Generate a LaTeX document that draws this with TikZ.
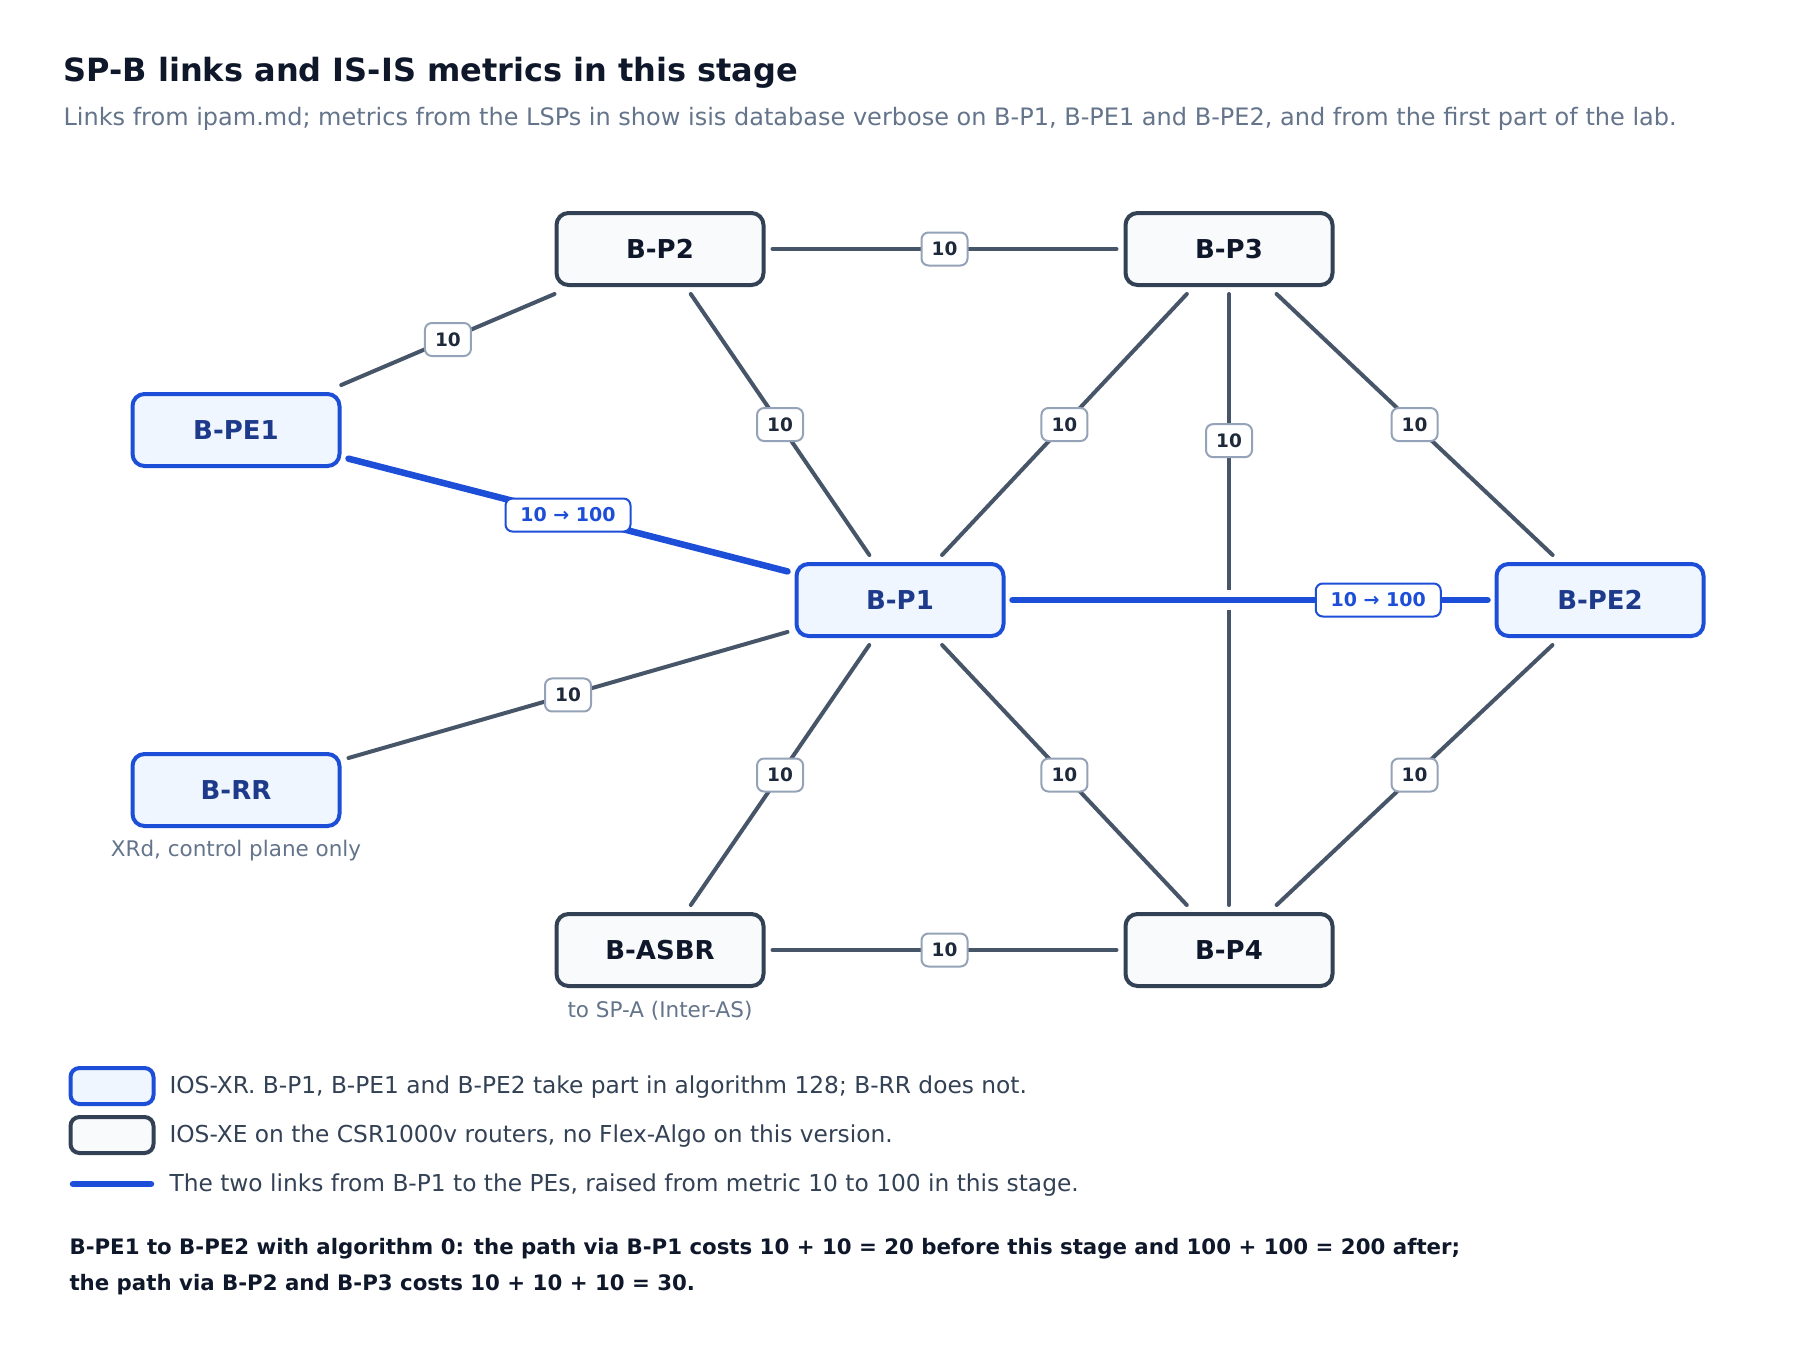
\documentclass[tikz,border=0pt]{standalone}
\usepackage{fontspec}
\setmainfont{DejaVu Sans}
\definecolor{xrblue}{HTML}{1D4ED8}
\definecolor{xrfill}{HTML}{EFF6FF}
\definecolor{xrtext}{HTML}{1E3A8A}
\definecolor{xeborder}{HTML}{334155}
\definecolor{xefill}{HTML}{F8FAFC}
\definecolor{inktext}{HTML}{0F172A}
\definecolor{linkgray}{HTML}{475569}
\definecolor{tagborder}{HTML}{94A3B8}
\definecolor{tagtext}{HTML}{1E293B}
\definecolor{subgray}{HTML}{64748B}
\definecolor{keytext}{HTML}{334155}
\begin{document}
\begin{tikzpicture}[x=1pt,y=-1pt,
  router/.style={line width=4, rounded corners=12, minimum width=207, minimum height=72, outer sep=9, font=\fontsize{26}{30}\selectfont\bfseries},
  xr/.style={router, draw=xrblue, fill=xrfill, text=xrtext},
  xe/.style={router, draw=xeborder, fill=xefill, text=inktext},
  link/.style={draw=linkgray, line width=4, line cap=round},
  hotlink/.style={draw=xrblue, line width=6.5, line cap=round},
  metric/.style={draw=tagborder, fill=white, text=tagtext, line width=2, rounded corners=7, minimum width=46, minimum height=33, inner sep=0, font=\fontsize{18.5}{21}\selectfont\bfseries},
  hotmetric/.style={metric, draw=xrblue, text=xrblue, minimum width=125, font=\fontsize{19}{22}\selectfont\bfseries},
  note/.style={text=subgray, font=\fontsize{21.5}{25}\selectfont},
  keytxt/.style={anchor=west, text=keytext, font=\fontsize{23.3}{27}\selectfont}]
\useasboundingbox[fill=white] (0,0) rectangle (1800,1360);
%
\node[anchor=west, text=inktext, font=\fontsize{32}{38}\selectfont\bfseries] (title) at (60,73) {SP-B links and IS-IS metrics in this stage};
\node[anchor=west, text=subgray, font=\fontsize{24}{28}\selectfont] (subtitle) at (60,119) {Links from ipam.md; metrics from the LSPs in show isis database verbose on B-P1, B-PE1 and B-PE2, and from the first part of the lab.};
%
\node[xe] (p2) at (660,249) {B-P2};
\node[xe] (p3) at (1229,249) {B-P3};
\node[xr] (pe1) at (236,430) {B-PE1};
\node[xr] (p1) at (900,600) {B-P1};
\node[xr] (pe2) at (1600,600) {B-PE2};
\node[xr] (rr) at (236,790) {B-RR};
\node[xe] (asbr) at (660,950) {B-ASBR};
\node[xe] (p4) at (1229,950) {B-P4};
%
\node[note] (rrnote) at (236,851) {XRd, control plane only};
\node[note] (asbrnote) at (660,1011) {to SP-A (Inter-AS)};
%
\draw[link] (p2) -- node[metric]{10} (p3);
\draw[link] (pe1) -- node[metric]{10} (p2);
\draw[link] (p2) -- node[metric]{10} (p1);
\draw[link] (p3) -- node[metric]{10} (p1);
\draw[link] (p3) -- node[metric,pos=0.24]{10} (p4);
\draw[link] (p3) -- node[metric]{10} (pe2);
\draw[link] (rr) -- node[metric]{10} (p1);
\draw[link] (p1) -- node[metric]{10} (asbr);
\draw[link] (p1) -- node[metric]{10} (p4);
\draw[link] (pe2) -- node[metric]{10} (p4);
\draw[link] (asbr) -- node[metric]{10} (p4);
%
\draw[hotlink] (pe1) -- node[hotmetric]{10 → 100} (p1);
\draw[hotlink, preaction={draw=white, line width=20, line cap=butt}] (p1) -- node[hotmetric,pos=0.77]{10 → 100} (pe2);
%
\node[xr, minimum width=83, minimum height=36, rounded corners=9, outer sep=0] (keyxr) at (112,1086) {};
\node[xe, minimum width=83, minimum height=36, rounded corners=9, outer sep=0] (keyxe) at (112,1135) {};
\coordinate (keya) at (73,1184);
\coordinate (keyb) at (151,1184);
\draw[hotlink] (keya) -- (keyb);
\node[keytxt] (keyxrtxt) at (166,1087) {IOS-XR. B-P1, B-PE1 and B-PE2 take part in algorithm 128; B-RR does not.};
\node[keytxt] (keyxetxt) at (166,1136) {IOS-XE on the CSR1000v routers, no Flex-Algo on this version.};
\node[keytxt] (keylinktxt) at (166,1185) {The two links from B-P1 to the PEs, raised from metric 10 to 100 in this stage.};
%
\node[anchor=west, text=inktext, font=\fontsize{21.3}{25}\selectfont\bfseries] (sumone) at (66,1249) {B-PE1 to B-PE2 with algorithm 0: the path via B-P1 costs 10 + 10 = 20 before this stage and 100 + 100 = 200 after;};
\node[anchor=west, text=inktext, font=\fontsize{21.3}{25}\selectfont\bfseries] (sumtwo) at (66,1285) {the path via B-P2 and B-P3 costs 10 + 10 + 10 = 30.};
\end{tikzpicture}
\end{document}
